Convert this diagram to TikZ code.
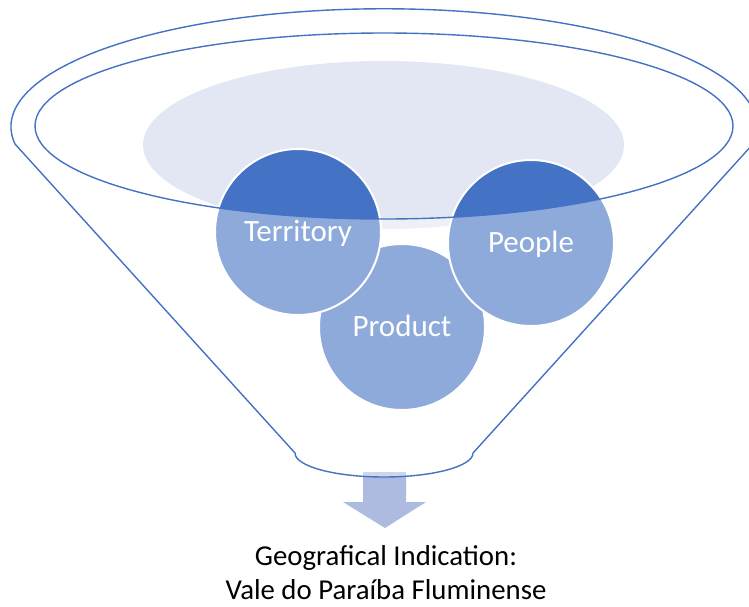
\documentclass[tikz,border=0pt]{standalone}
\usepackage{fontspec}
\setmainfont{Carlito}
\definecolor{funnelblue}{HTML}{4472C4}
\definecolor{mouthgrey}{HTML}{E3E7F3}
\definecolor{arrowblue}{HTML}{AEBBE0}
\tikzset{
	ball/.style={circle, fill=funnelblue, draw=white, line width=2pt, minimum size=166pt, inner sep=0pt,
		text=white, font=\fontsize{31}{36}\selectfont, text height=19.6pt, text depth=0pt},
	rim/.style={draw=funnelblue, line width=1.4pt},
}

\begin{document}
\begin{tikzpicture}[x=1pt, y=-1pt]
		\useasboundingbox (0,0) rectangle (749,606);
		\clip (0,0) rectangle (749,606);
		\fill[mouthgrey] (383.5,145) ellipse [x radius=240.5, y radius=84];
		\fill[arrowblue] (363,472) -- (406,472) -- (406,502) -- (426,502) -- (385,528) -- (343,502) -- (363,502) -- cycle;
		\node[ball] (product) at (402,327) {Product};
		\node[ball] (territory) at (298,232) {Territory};
		\node[ball] (people) at (531,243) {People};
		% body of the funnel lightens what lies below the mouth
		\fill[white, fill opacity=0.4, even odd rule] (15,144) arc[start angle=171.6, end angle=368.4, x radius=373, y radius=118]
			-- (473,453) arc[start angle=0, end angle=180, x radius=89, y radius=24] -- cycle
			(384,126) ellipse [x radius=349, y radius=93];
		\draw[rim] (15,144) arc[start angle=171.6, end angle=368.4, x radius=373, y radius=118]
			-- (473,453) arc[start angle=0, end angle=180, x radius=89, y radius=24] -- cycle;
		\draw[rim] (384,126) ellipse [x radius=349, y radius=93];
		\node[font=\fontsize{28.8}{34}\selectfont, align=center] (label) at (386,573) {Geografical Indication:\\ Vale do Paraíba Fluminense};
	\end{tikzpicture}
\end{document}
